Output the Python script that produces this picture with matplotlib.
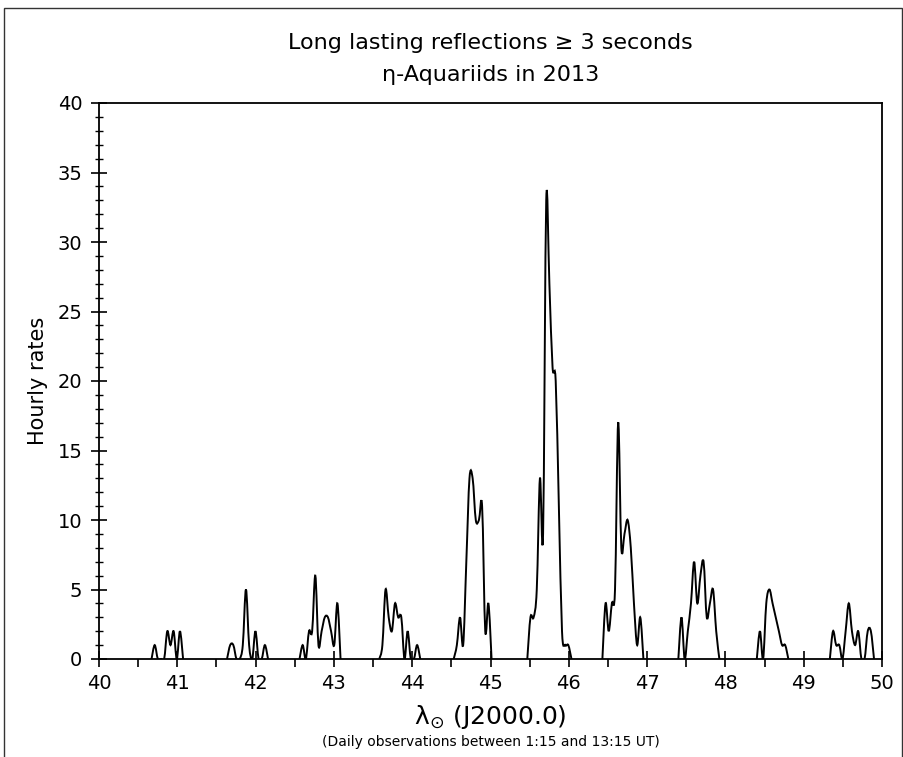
import numpy as np
import matplotlib
matplotlib.use("Agg")
import matplotlib.pyplot as plt
from matplotlib.path import Path
from matplotlib.patches import PathPatch, Rectangle
from matplotlib.ticker import MultipleLocator

# ---------------- data (hourly counts, one list per observing day) ----------
HOUR_DEG = 0.0403  # solar longitude covered by one hour
day_starts = [40.671, 41.635, 42.561, 43.579, 44.530,
              45.470, 46.429, 47.399, 48.401, 49.334]
day1 = [0, 1, 0, 0, 0, 2, 1, 2, 0, 2, 0]
day2 = [0, 1, 1, 0, 0, 1, 5, 1, 0, 2, 0, 0, 1, 0]
day3 = [0, 1, 0, 2, 2, 6, 1, 2, 3, 3, 2, 1, 4, 0]
day4 = [0, 1, 5, 3, 2, 4, 3, 3, 0, 2, 0, 0, 1, 0]
day5 = [0, 1, 3, 1, 7, 13, 13, 10, 10, 11, 2, 4, 0]
day6 = [0, 3, 3, 5, 13, 9, 33, 27, 21, 20, 11, 2, 1, 1, 0]
day7 = [0, 4, 2, 4, 5, 17, 8, 9, 10, 8, 4, 1, 3, 0]
day8 = [0, 3, 0, 2, 4, 7, 4, 6, 7, 3, 4, 5, 2, 0]
day9 = [0, 2, 0, 4, 5, 4, 3, 2, 1, 1, 0]
day10 = [0, 2, 1, 1, 0, 2, 4, 2, 1, 2, 0, 0, 2, 2, 0]
day_counts = [day1, day2, day3, day4, day5, day6, day7, day8, day9, day10]

x_ticks = list(range(40, 51))
y_ticks = list(range(0, 41, 5))

title_1 = "Long lasting reflections \u2265 3 seconds"
title_2 = "\u03b7-Aquariids in 2013"
y_label = "Hourly rates"
x_label = "\u03bb$_{\\odot}$ (J2000.0)"
x_note = "(Daily observations between 1:15 and 13:15 UT)"


def smooth_path(xs, ys):
    """Smoothed (Bezier) path through the data points, like a spreadsheet 'smooth line'."""
    p = np.column_stack([xs, ys]).astype(float)
    n = len(p)
    verts = [p[0]]
    codes = [Path.MOVETO]
    for i in range(n - 1):
        p0 = p[i - 1] if i > 0 else p[i]
        p1 = p[i]
        p2 = p[i + 1]
        p3 = p[i + 2] if i + 2 < n else p[i + 1]
        c1 = p1 + (p2 - p0) / 6.0
        c2 = p2 - (p3 - p1) / 6.0
        verts += [c1, c2, p2]
        codes += [Path.CURVE4] * 3
    return Path(verts, codes)


plt.rcParams["font.family"] = ["DejaVu Sans"]
plt.rcParams["mathtext.fontset"] = "dejavusans"
fig = plt.figure(figsize=(9.04, 7.57), dpi=100)
ax = fig.add_axes([99 / 904, 98 / 757, 783 / 904, 556 / 757])

for start, vals in zip(day_starts, day_counts):
    xs = start + HOUR_DEG * np.arange(len(vals))
    patch = PathPatch(smooth_path(xs, vals), facecolor="none",
                      edgecolor="black", lw=1.4, zorder=3)
    ax.add_patch(patch)

ax.set_xlim(40, 50)
ax.set_ylim(0, 40)
ax.set_xticks(x_ticks)
ax.set_yticks(y_ticks)
ax.xaxis.set_minor_locator(MultipleLocator(0.5))
ax.yaxis.set_minor_locator(MultipleLocator(1))

for s in ax.spines.values():
    s.set_linewidth(1.3)
    s.set_color("black")

ax.tick_params(axis="x", which="major", direction="inout", length=12,
               width=1.2, labelsize=14, pad=5, colors="black")
ax.tick_params(axis="x", which="minor", direction="out", length=6,
               width=1.2)
ax.tick_params(axis="y", which="major", direction="inout", length=12,
               width=1.2, labelsize=14, pad=6)
ax.tick_params(axis="y", which="minor", direction="inout", length=6,
               width=1.0)

cx = ax.get_position().x0 + ax.get_position().width / 2
fig.text(cx, 1 - 43 / 757, title_1, ha="center", va="center", fontsize=16)
fig.text(cx, 1 - 75 / 757, title_2, ha="center", va="center", fontsize=16)
ax.set_ylabel(y_label, fontsize=15, labelpad=7)
fig.text(cx, 1 - 717 / 757, x_label, ha="center", va="center", fontsize=18)
fig.text(cx, 1 - 742 / 757, x_note, ha="center", va="center", fontsize=10)

# outer frame of the picture
fig.add_artist(Rectangle((4 / 904, -0.05), 898 / 904, (757 - 8) / 757 + 0.05,
                         transform=fig.transFigure, fill=False,
                         edgecolor="#333333", lw=1.0))

fig.savefig("out.png", dpi=100)
